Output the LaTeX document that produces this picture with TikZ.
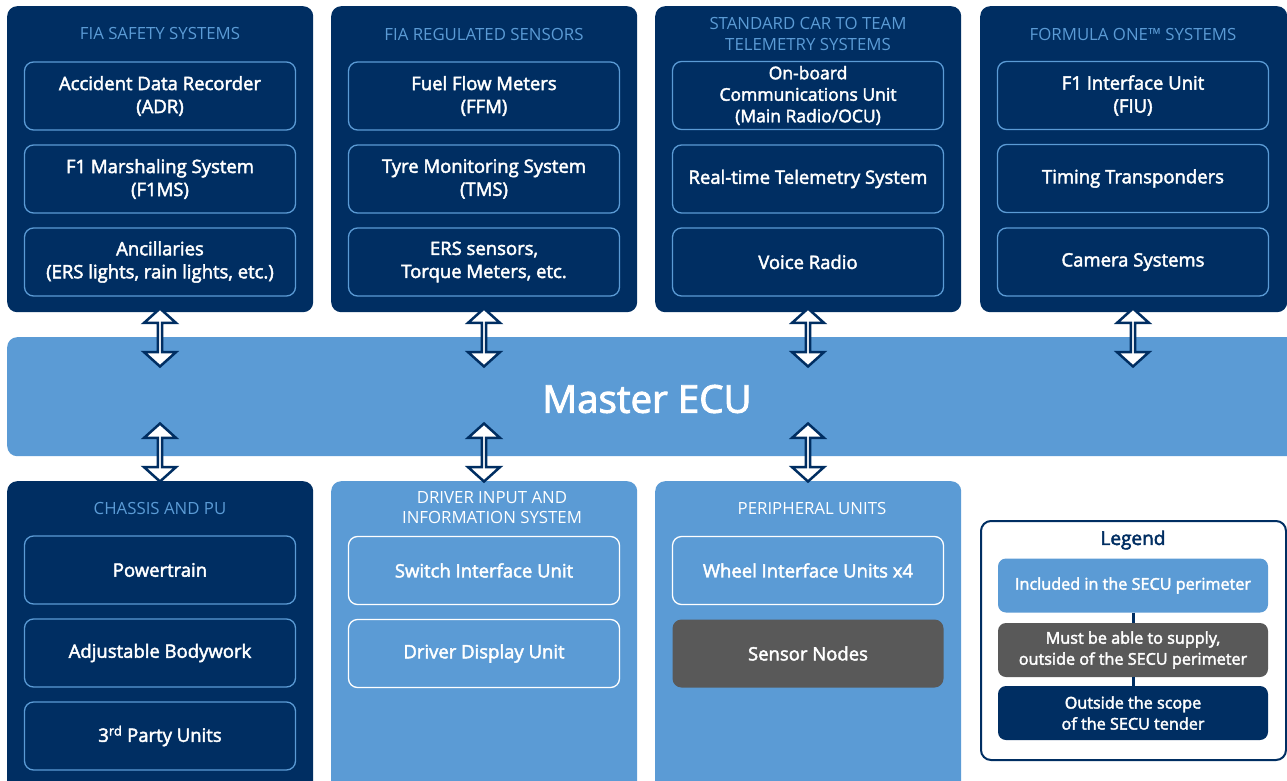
\documentclass[tikz,border=0pt]{standalone}
\usepackage{fontspec}
\setmainfont{Open Sans}
\newfontfamily\semib{Open Sans}[FakeBold=2.4]
\usetikzlibrary{shapes.arrows}

\definecolor{navy}{HTML}{002E62}
\definecolor{skyblue}{HTML}{5B9BD5}
\definecolor{slate}{HTML}{595959}

\tikzset{
  panel/.style={rectangle, rounded corners=10pt, minimum width=306pt, minimum height=306pt, anchor=north west, inner sep=0pt},
  darkpanel/.style={panel, fill=navy},
  lightpanel/.style={panel, fill=skyblue, minimum height=330pt},
  paneltitle/.style={align=center, inner sep=0pt, text=skyblue, font=\fontsize{16.8}{20.5}\selectfont},
  unit/.style={rectangle, rounded corners=9pt, minimum width=271pt, minimum height=68pt, draw=skyblue, line width=1.3pt, text=white, align=center, inner sep=0pt, font=\semib\fontsize{18.5}{23}\selectfont},
  whiteunit/.style={unit, draw=white},
  greyunit/.style={unit, draw=none, fill=slate},
  dblarrow/.style={double arrow, shape border rotate=90, draw=navy, fill=white, line width=2.5pt, minimum height=58pt, minimum width=32pt, double arrow head extend=8pt, double arrow tip angle=96, inner sep=0pt},
  legbox/.style={rectangle, rounded corners=8pt, minimum width=270pt, minimum height=54pt, text=white, align=center, inner sep=0pt, font=\semib\fontsize{16.2}{21}\selectfont}
}

\begin{document}
\begin{tikzpicture}[x=1pt, y=-1pt]
    \useasboundingbox (0,0) rectangle (1287,781);
    \clip (0,0) rectangle (1287,781);

    % top row of panels
    \node[darkpanel] (fia) at (7,6) {};
    \node[darkpanel] (reg) at (331,6) {};
    \node[darkpanel] (tel) at (655,6) {};
    \node[darkpanel, minimum width=307pt] (fom) at (980,6) {};

    \node[paneltitle] (fiat) at (160,34) {FIA SAFETY SYSTEMS};
    \node[paneltitle] (regt) at (484,34) {FIA REGULATED SENSORS};
    \node[paneltitle] (telt) at (808,34) {STANDARD CAR TO TEAM\\TELEMETRY SYSTEMS};
    \node[paneltitle] (fomt) at (1133,34) {FORMULA ONE™ SYSTEMS};

    \node[unit] (adr) at (160,96) {Accident Data Recorder\\(ADR)};
    \node[unit] (fims) at (160,179) {F1 Marshaling System\\(F1MS)};
    \node[unit] (anc) at (160,262) {Ancillaries\\(ERS lights, rain lights, etc.)};

    \node[unit] (ffm) at (484,96) {Fuel Flow Meters\\(FFM)};
    \node[unit] (tms) at (484,179) {Tyre Monitoring System\\(TMS)};
    \node[unit] (ers) at (484,262) {ERS sensors,\\Torque Meters, etc.};

    \node[unit, font=\semib\fontsize{17.5}{21.5}\selectfont] (ocu) at (808,95.5) {On-board\\Communications Unit\\(Main Radio/OCU)};
    \node[unit] (rts) at (808,179) {Real-time Telemetry System};
    \node[unit] (vr) at (808,262) {Voice Radio};

    \node[unit] (fiu) at (1133,95.5) {F1 Interface Unit\\(FIU)};
    \node[unit] (tt) at (1133,178.5) {Timing Transponders};
    \node[unit] (cam) at (1133,262) {Camera Systems};

    % master ECU
    \node[rectangle, rounded corners=10pt, fill=skyblue, minimum width=1290pt, minimum height=119pt, anchor=north west, inner sep=0pt] (ecu) at (7,337) {};
    \node[text=white, font=\semib\fontsize{38.5}{44}\selectfont] (ecut) at (647,399) {Master ECU};

    % bottom row of panels
    \node[darkpanel, minimum height=330pt] (chs) at (7,481) {};
    \node[lightpanel] (drv) at (331,481) {};
    \node[lightpanel] (per) at (655,481) {};

    \node[paneltitle] (chst) at (160,508) {CHASSIS AND PU};
    \node[paneltitle, text=white] (drvt) at (492,507.5) {DRIVER INPUT AND\\INFORMATION SYSTEM};
    \node[paneltitle, text=white] (pert) at (812,508) {PERIPHERAL UNITS};

    \node[unit] (pt) at (160,570) {Powertrain};
    \node[unit] (abw) at (160,653) {Adjustable Bodywork};
    \node[unit] (tpu) at (160,736) {3\textsuperscript{rd} Party Units};

    \node[whiteunit] (siu) at (484,570.5) {Switch Interface Unit};
    \node[whiteunit] (ddu) at (484,653.5) {Driver Display Unit};

    \node[whiteunit] (wiu) at (808,570.5) {Wheel Interface Units x4};
    \node[greyunit] (sn) at (808,653.5) {Sensor Nodes};

    % arrows to and from the master ECU
    \foreach \xa/\nm in {160/a, 484/b, 808/c, 1133/d} {
        \node[dblarrow] (up\nm) at (\xa,337.5) {};
    }
    \foreach \xa/\nm in {160/a, 484/b, 808/c} {
        \node[dblarrow] (dn\nm) at (\xa,452.5) {};
    }

    % legend
    \node[rectangle, rounded corners=10pt, draw=navy, line width=2pt, fill=white, minimum width=305pt, minimum height=239pt, anchor=north west, inner sep=0pt] (leg) at (980,520) {};
    \node[text=navy, font=\semib\fontsize{19}{22}\selectfont] (legt) at (1133,540) {Legend};
    \node[legbox, fill=skyblue] (lga) at (1133,585.5) {Included in the SECU perimeter};
    \node[legbox, fill=slate] (lgb) at (1133,650) {Must be able to supply,\\outside of the SECU perimeter};
    \node[legbox, fill=navy] (lgc) at (1133,713) {Outside the scope\\of the SECU tender};
    \draw[navy, line width=3pt] (lga) -- (lgb);
    \draw[navy, line width=3pt] (lgb) -- (lgc);
\end{tikzpicture}
\end{document}
